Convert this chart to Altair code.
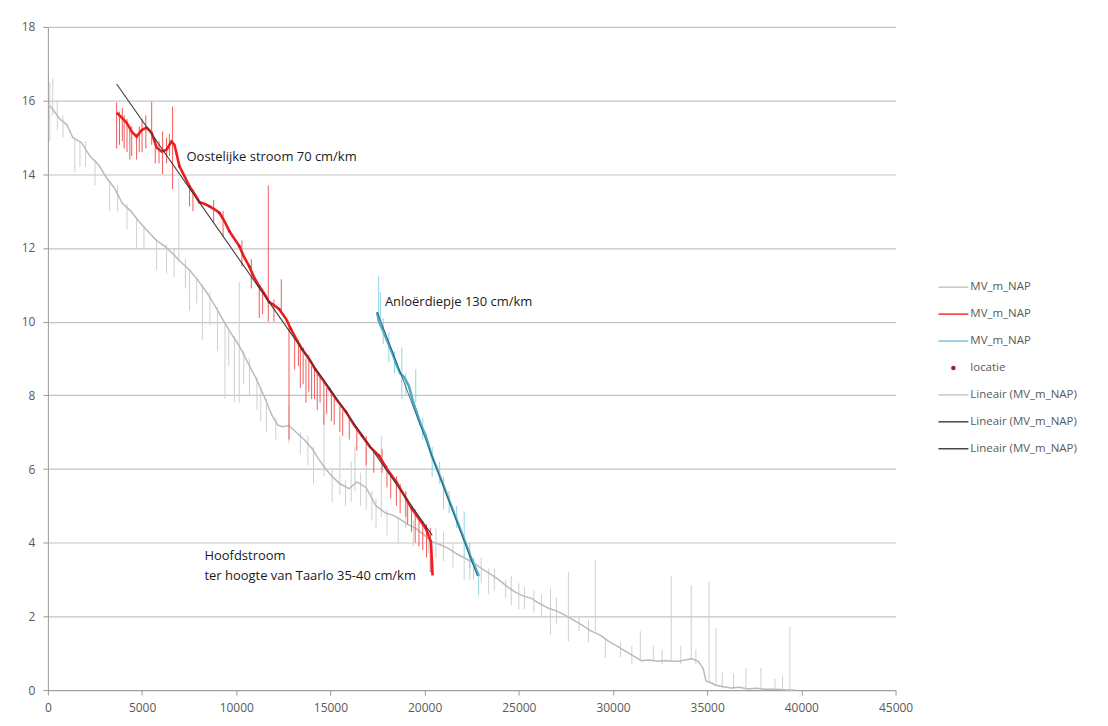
import altair as alt
import pandas as pd

FONT = "Open Sans"

# ---------------- Main stream (gray) ----------------
gray_x = [0, 210, 635, 1000, 1320, 1800, 2220, 2700, 3120, 3500, 3970, 4400, 4870, 5400,
          5770, 6200, 6620, 7100, 7520, 8000, 8420, 8850, 9270, 9700, 10160, 10600, 11060,
          11500, 11910, 12200, 12440, 12800, 13180, 13600, 14030, 14400, 14750, 15090, 15500,
          15990, 16400, 16890, 17420, 17950, 18300, 18630, 19100, 19530, 20000, 20380, 20800,
          21280, 21700, 22180, 22600, 23030, 23500, 23930, 24400, 24830, 25250, 25680, 26100,
          26580, 27000, 27480, 28000, 28400, 28850, 29300, 29750, 30200, 30650, 31100, 31500,
          31900, 32400, 32800, 33090, 33500, 33830, 34200, 34520, 34780, 34940, 35200, 35420,
          35800, 36260, 36700, 37160, 37600, 38060, 38600, 39280, 39700]
gray_y = [15.9, 15.8, 15.5, 15.35, 15.0, 14.85, 14.5, 14.25, 13.9, 13.65, 13.2, 13.0, 12.7, 12.4,
          12.2, 12.05, 11.85, 11.6, 11.4, 11.1, 10.8, 10.45, 10.07, 9.7, 9.34, 8.9, 8.45,
          7.95, 7.44, 7.2, 7.15, 7.18, 7.0, 6.8, 6.55, 6.25, 6.0, 5.8, 5.6,
          5.47, 5.65, 5.5, 5.0, 4.8, 4.75, 4.66, 4.5, 4.39, 4.2, 4.03, 3.95,
          3.84, 3.7, 3.57, 3.45, 3.3, 3.15, 3.0, 2.8, 2.65, 2.55, 2.49, 2.35,
          2.22, 2.15, 2.03, 1.87, 1.75, 1.6, 1.5, 1.33, 1.2, 1.06, 0.92, 0.8,
          0.82, 0.78, 0.8, 0.78, 0.78, 0.82, 0.85, 0.78, 0.6, 0.25, 0.2, 0.14,
          0.1, 0.06, 0.08, 0.03, 0.05, 0.02, 0.02, 0.0, 0.0]
gray_spike_x = [100, 260, 500, 800, 1430, 1700, 2000, 2500, 3280, 3700, 4200, 4700, 5100, 5770,
                6300, 6700, 6950, 7300, 7520, 7900, 8200, 8600, 9000, 9400, 9600, 9900,
                10160, 10400, 10700, 11100, 11300, 11600, 12100, 12800, 13400, 13800, 14100,
                14660, 15090, 15500, 15800, 16100, 16300, 16600, 16900, 17200, 17420,
                17700, 18000, 18600, 19000, 19400, 20200, 20600, 21000, 21500, 22100, 22400,
                23000, 23400, 23700, 24300, 24600, 25000, 25300, 25800, 26200, 26680, 27000,
                27630, 28200, 28700, 29060, 29590, 30400, 31000, 31450, 32140, 32600, 33090,
                33600, 34150, 34400, 35100, 35470, 35800, 36400, 37060, 37850, 38600, 39000, 39390]
gray_spike_lo = [14.9, 15.6, 15.2, 15.0, 14.05, 14.2, 14.2, 13.7, 13.0, 13.0, 12.5, 12.0, 12.0, 11.4,
                 11.3, 11.2, 11.6, 10.9, 10.3, 10.5, 9.5, 9.9, 9.2, 7.9, 8.8, 7.8,
                 7.8, 8.3, 8.0, 7.6, 7.3, 7.0, 6.8, 6.7, 6.4, 6.1, 5.6,
                 5.8, 5.1, 5.3, 5.0, 5.1, 5.4, 5.0, 4.9, 4.6, 4.4,
                 4.7, 4.2, 4.0, 4.4, 3.9, 3.7, 3.6, 3.5, 3.3, 3.0, 3.0,
                 2.9, 2.6, 2.7, 2.5, 2.3, 2.2, 2.2, 2.1, 2.0, 1.5, 1.8,
                 1.33, 1.6, 1.3, 1.6, 0.87, 0.9, 0.7, 0.8, 0.78, 0.7, 0.78,
                 0.7, 0.82, 0.7, 0.2, 0.14, 0.05, 0.02, 0.03, 0.03, 0.0, 0.0, 0.0]
gray_spike_hi = [16.5, 16.6, 16.0, 15.6, 15.0, 14.9, 14.9, 14.4, 13.8, 13.7, 13.2, 12.8, 12.6, 12.2,
                 12.1, 12.0, 13.9, 11.7, 11.4, 11.2, 11.0, 10.8, 10.4, 10.0, 9.8, 9.6,
                 11.07, 9.2, 9.0, 8.5, 8.2, 7.9, 7.4, 7.7, 7.0, 6.9, 6.6,
                 7.6, 6.0, 6.9, 5.7, 6.2, 6.6, 5.9, 6.6, 5.4, 5.2,
                 6.9, 4.9, 4.7, 5.4, 4.6, 4.3, 4.4, 4.3, 4.0, 3.7, 3.8,
                 3.6, 3.3, 3.3, 3.0, 3.1, 2.9, 2.8, 2.7, 2.6, 2.76, 2.5,
                 3.2, 2.0, 1.9, 3.52, 1.4, 1.3, 1.2, 1.6, 1.22, 1.1, 3.1,
                 1.2, 2.85, 1.1, 2.95, 1.68, 0.5, 0.45, 0.6, 0.6, 0.3, 0.4, 1.73]

# ---------------- Oostelijke stroom (red) ----------------
red_x = [3650, 3920, 4180, 4450, 4710, 4980, 5240, 5510, 5770, 6040, 6300, 6560, 6720, 6990,
         7250, 7520, 7800, 8050, 8300, 8580, 8850, 9110, 9400, 9640, 9900, 10160, 10420, 10690,
         10950, 11220, 11500, 11750, 12000, 12280, 12650, 12900, 13180, 13500, 13870, 14200,
         14560, 14930, 15300, 15830, 16250, 16680, 17100, 17580, 18000, 18480, 18900, 19320,
         19700, 20060, 20330, 20380, 20420]
red_y = [15.67, 15.54, 15.4, 15.16, 15.02, 15.2, 15.27, 15.13, 14.73, 14.62, 14.67, 14.89, 14.8, 14.21,
         13.95, 13.67, 13.45, 13.24, 13.2, 13.13, 13.05, 12.95, 12.7, 12.45, 12.25, 12.05, 11.75, 11.5,
         11.2, 10.96, 10.75, 10.53, 10.45, 10.34, 10.07, 9.8, 9.53, 9.25, 8.99, 8.7,
         8.45, 8.18, 7.9, 7.55, 7.2, 6.9, 6.6, 6.36, 6.0, 5.66, 5.3, 4.93,
         4.65, 4.39, 4.03, 3.57, 3.11]
red_spike_x = [3650, 3800, 3950, 4050, 4200, 4350, 4450, 4710, 4850, 5000, 5200, 5510, 5700, 5900,
               6090, 6300, 6450, 6620, 7520, 7700, 8800, 9300, 10300, 10800, 11220, 11400, 11700,
               12000, 12390, 12800, 13100, 13300, 13400, 13550, 13700, 13850, 14000, 14150, 14300,
               14450, 14650, 14800, 15050, 15200, 15500, 15650, 16000, 16400, 16900, 17300, 17740,
               18000, 18200, 18500, 18700, 19000, 19100, 19300, 19500, 19700, 19900, 20100, 20300]
red_spike_lo = [14.7, 14.8, 14.9, 14.7, 14.6, 14.4, 14.5, 14.4, 14.6, 14.6, 14.7, 14.8, 14.3, 14.3,
                14.0, 14.3, 14.5, 13.6, 13.13, 13.0, 12.7, 12.3, 11.5, 10.9, 10.1, 10.2, 10.0,
                10.0, 10.3, 6.8, 8.7, 8.8, 8.2, 8.3, 7.8, 8.1, 7.9, 7.9, 7.6,
                7.8, 7.2, 7.5, 7.3, 7.2, 7.0, 6.9, 6.8, 6.5, 6.1, 5.9, 5.9,
                5.5, 5.2, 5.0, 4.8, 4.7, 4.5, 4.3, 4.0, 3.9, 3.8, 3.6, 3.2]
red_spike_hi = [15.95, 15.7, 15.8, 15.6, 15.5, 15.3, 15.3, 15.1, 15.3, 15.5, 15.6, 15.97, 15.0, 14.9,
                15.16, 15.0, 15.1, 15.84, 13.7, 13.6, 13.3, 13.0, 12.2, 11.7, 11.0, 10.9, 13.7,
                10.6, 11.15, 10.0, 9.6, 9.5, 9.3, 9.3, 9.0, 9.1, 8.8, 8.7, 8.6,
                8.5, 8.4, 8.2, 8.1, 7.9, 7.7, 7.6, 7.4, 7.1, 6.9, 6.5, 6.55,
                6.1, 5.9, 5.8, 5.6, 5.4, 5.2, 5.0, 4.9, 4.7, 4.6, 4.5, 4.4]

# locatie points (dark red) along the eastern stream
loc_x = [6990, 7520, 8050, 8580, 9110, 9640, 10160, 10690, 11220, 11750, 12280, 12900, 13500,
         14200, 14930, 15830, 16680, 17580, 18480, 19320, 20060]
loc_y = [14.21, 13.67, 13.24, 13.13, 12.95, 12.45, 12.05, 11.5, 10.96, 10.53, 10.34, 9.8, 9.25,
         8.7, 8.18, 7.55, 6.9, 6.36, 5.66, 4.93, 4.39]

# ---------------- Anloërdiepje (blue) ----------------
blue_x = [17470, 17580, 17800, 18000, 18270, 18500, 18700, 18900, 19160, 19400, 19600, 19800,
          20060, 20380, 20700, 21000, 21300, 21600, 21900, 22200, 22450, 22710, 22870]
blue_y = [10.26, 10.0, 9.75, 9.5, 9.17, 8.85, 8.6, 8.5, 8.26, 7.8, 7.5, 7.2,
          6.9, 6.36, 5.95, 5.55, 5.15, 4.75, 4.35, 3.95, 3.6, 3.3, 3.1]
blue_spike_x = [17560, 17650, 17800, 18100, 18400, 18790, 19000, 19530, 19900, 20400, 20800,
                21000, 21300, 21700, 22100, 22400, 22600, 22870]
blue_spike_lo = [10.0, 10.0, 9.4, 8.9, 8.6, 7.9, 8.0, 7.8, 6.8, 5.8, 5.6, 4.9, 4.8, 4.4, 3.6, 3.3, 3.0, 2.57]
blue_spike_hi = [11.24, 10.8, 10.1, 9.7, 9.2, 9.3, 8.6, 8.7, 7.4, 6.6, 6.2, 5.8, 5.4, 5.0, 4.85, 4.0, 3.6, 3.2]

# ---------------- Linear trends ----------------
red_trend_x = [3650, 20400]
red_trend_y = [16.45, 4.2]
blue_trend_x = [17500, 22800]
blue_trend_y = [10.25, 3.1]

# ---------------- Annotations ----------------
annot_text = ["Oostelijke stroom 70 cm/km", "Anloërdiepje 130 cm/km", "Hoofdstroom",
              "ter hoogte van Taarlo 35-40 cm/km"]
annot_x = [7360, 17890, 8310, 8310]
annot_y = [14.46, 10.53, 3.65, 3.11]

# ---------------- Legend ----------------
legend_labels = ["MV_m_NAP", "MV_m_NAP", "MV_m_NAP", "locatie", "Lineair (MV_m_NAP)",
                 "Lineair (MV_m_NAP)", "Lineair (MV_m_NAP)"]
legend_colors = ["#c4c4c4", "#f02020", "#6cc0dc", "#b01c34", "#c4c4c4", "#3a3a3a", "#3a3a3a"]
legend_kinds = ["line", "line", "line", "point", "line", "line", "line"]

x_ticks = list(range(0, 45001, 5000))
y_ticks = list(range(0, 19, 2))

GRAY = "#bababa"
GRAY_SPIKE = "#d0d0d0"
RED = "#f01c1c"
RED_SPIKE = "#f25a5a"
BLUE = "#4bacc6"
BLUE_SPIKE = "#92d3e8"
LOC = "#b01c34"
TREND = "#3a3a3a"

xs = alt.Scale(domain=[0, 45000], nice=False, zero=False)
ys = alt.Scale(domain=[0, 18], nice=False, zero=False)

X = alt.X("x:Q", scale=xs, title=None,
          axis=alt.Axis(values=x_ticks, format="d", grid=False, labelFont=FONT, labelFontSize=12,
                        labelColor="#595959", tickColor="#9a9a9a", tickSize=5, domainColor="#9a9a9a",
                        labelPadding=7, labelFlush=False, labelOverlap=False))
Y = alt.Y("y:Q", scale=ys, title=None,
          axis=alt.Axis(values=y_ticks, grid=True, gridColor="#c4c4c4", gridWidth=1.2,
                        labelFont=FONT, labelFontSize=12, labelColor="#595959", tickColor="#9a9a9a",
                        tickSize=5, domainColor="#9a9a9a", labelPadding=8))


def line_df(xv, yv):
    return pd.DataFrame({"x": xv, "y": yv})


def spike_df(xv, lo, hi):
    return pd.DataFrame({"x": xv, "y": lo, "y2": hi})


gray_sp = alt.Chart(spike_df(gray_spike_x, gray_spike_lo, gray_spike_hi)).mark_rule(
    color=GRAY_SPIKE, strokeWidth=1).encode(x=X, y=Y, y2="y2:Q")
gray_line = alt.Chart(line_df(gray_x, gray_y)).mark_line(color=GRAY, strokeWidth=1.5).encode(x=X, y=Y)

red_sp = alt.Chart(spike_df(red_spike_x, red_spike_lo, red_spike_hi)).mark_rule(
    color=RED_SPIKE, strokeWidth=1).encode(x=X, y=Y, y2="y2:Q")
red_line = alt.Chart(line_df(red_x, red_y)).mark_line(color=RED, strokeWidth=2.6).encode(x=X, y=Y)
loc_pts = alt.Chart(line_df(loc_x, loc_y)).mark_point(filled=True, color=LOC, size=8, opacity=0.8).encode(x=X, y=Y)
red_tr = alt.Chart(line_df(red_trend_x, red_trend_y)).mark_line(color=TREND, strokeWidth=1.1).encode(x=X, y=Y)

blue_sp = alt.Chart(spike_df(blue_spike_x, blue_spike_lo, blue_spike_hi)).mark_rule(
    color=BLUE_SPIKE, strokeWidth=1).encode(x=X, y=Y, y2="y2:Q")
blue_line = alt.Chart(line_df(blue_x, blue_y)).mark_line(color=BLUE, strokeWidth=2.6).encode(x=X, y=Y)
blue_tr = alt.Chart(line_df(blue_trend_x, blue_trend_y)).mark_line(color="#2a4a58", strokeWidth=1, opacity=0.8).encode(x=X, y=Y)

annots = alt.Chart(pd.DataFrame({"x": annot_x, "y": annot_y, "t": annot_text})).mark_text(
    align="left", baseline="middle", font=FONT, fontSize=13, color="#1a1a1a").encode(x=X, y=Y, text="t:N")

main = alt.layer(gray_sp, gray_line, red_sp, red_line, loc_pts, red_tr, blue_sp, blue_line, blue_tr,
                 annots).properties(width=850, height=665)

leg_df = pd.DataFrame({"idx": list(range(len(legend_labels))), "label": legend_labels,
                       "color": legend_colors, "kind": legend_kinds})
LY = alt.Y("idx:O", scale=alt.Scale(type="point", range=[261, 423], padding=0), axis=None)
leg_base = alt.Chart(leg_df)
leg_rules = leg_base.transform_filter(alt.datum.kind == "line").mark_rule(strokeWidth=1.4).encode(
    x=alt.value(0), x2=alt.value(30), y=LY, color=alt.Color("color:N", scale=None))
leg_pts = leg_base.transform_filter(alt.datum.kind == "point").mark_point(filled=True, size=22, opacity=1).encode(
    x=alt.value(15), y=LY, color=alt.Color("color:N", scale=None))
leg_text = leg_base.mark_text(align="left", baseline="middle", font=FONT, fontSize=11.5, color="#595959").encode(
    x=alt.value(32), y=LY, text="label:N")
legend = alt.layer(leg_rules, leg_pts, leg_text).properties(width=160, height=665)

chart = alt.hconcat(main, legend, spacing=24).properties(
    padding={"left": 13, "top": 12, "right": 2, "bottom": 2},
    background="white",
).configure_view(stroke=None)

chart.save("out.html", embed_options={"renderer": "svg", "actions": False})
